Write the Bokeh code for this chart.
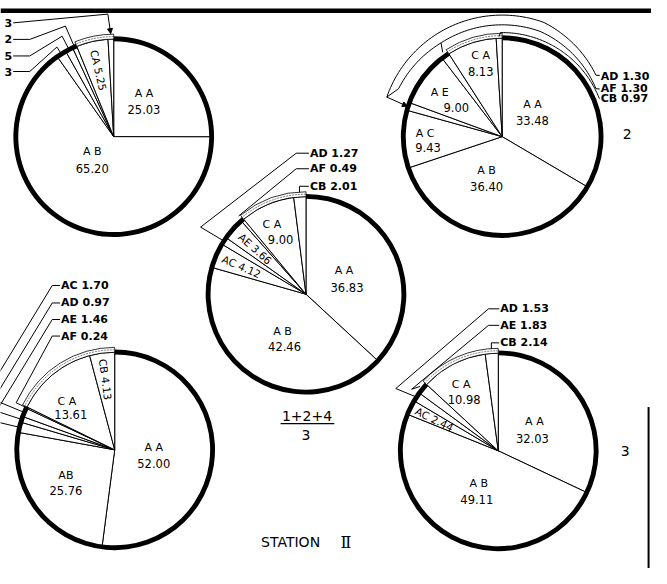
import numpy as np
from bokeh.plotting import figure
from bokeh.models import Range1d, Arrow, NormalHead
from bokeh.core.properties import value
from bokeh.embed import file_html
from bokeh.resources import INLINE

# ---------------- data ----------------
# pie 1 (top left, cropped at the left edge)
p1_cats = ["AA", "AB", "AC", "AD", "AE", "CA", "CB"]
p1_vals = [25.03, 65.20, 1.63, 1.25, 0.72, 5.25, 0.93]
p1_tags = ["3", "5", "2", "3"]          # visible remnants of the cropped labels (AC, AD, AE, CB)

# pie 2 (top right)
p2_cats = ["AA", "AB", "AC", "AD", "AE", "AF", "CA", "CB"]
p2_vals = [33.48, 36.40, 9.43, 1.30, 9.00, 1.30, 8.13, 0.97]

# mean pie (1+2+4)/3 (centre)
pm_cats = ["AA", "AB", "AC", "AD", "AE", "AF", "CA", "CB"]
pm_vals = [36.83, 42.46, 4.12, 1.27, 3.66, 0.49, 9.00, 2.01]

# pie 4 (bottom left)
p4_cats = ["AA", "AB", "AC", "AD", "AE", "AF", "CA", "CB"]
p4_vals = [52.00, 25.76, 1.70, 0.97, 1.46, 0.24, 13.61, 4.13]

# pie 3 (bottom right)
p3_cats = ["AA", "AB", "AC", "AD", "AE", "CA", "CB"]
p3_vals = [32.03, 49.11, 2.44, 1.53, 1.83, 10.98, 2.14]

pie_numbers = ["2", "3"]
mean_formula = ["1+2+4", "3"]
station_title = ["STATION", "\u2161"]

# ---------------- layout ----------------
W, H = 667, 584
FONT = value("DejaVu Sans")
p = figure(width=651, height=568, x_range=Range1d(0, W), y_range=Range1d(0, H),
           output_backend="svg", toolbar_location=None,
           x_axis_location=None, y_axis_location=None, min_border=0,
           outline_line_color=None, background_fill_color="white")
p.grid.visible = False

LX, LY = [], []


def pt(c, r, th):
    t = np.radians(th)
    return (c[0] + r * np.sin(t), c[1] - r * np.cos(t))


def leader(pts):
    LX.append([q[0] for q in pts])
    LY.append([H - q[1] for q in pts])


def spiral(c, ths, rs, n=80):
    tt = np.linspace(ths[0], ths[-1], n)
    rr = np.interp(tt, ths, rs)
    return [pt(c, r, t) for t, r in zip(tt, rr)]


def edges_of(vals):
    v = np.asarray(vals, float)
    return np.concatenate([[0.0], np.cumsum(v)]) / v.sum() * 360.0


def mid(e, i):
    return (e[i] + e[i + 1]) / 2.0


def txt(x, y, s, size="11px", align="center", bold=False, angle=0.0, font=FONT):
    p.text(x=[x], y=[H - y], text=[s], angle=[np.radians(angle)],
           text_font=font, text_font_size=size, text_align=align,
           text_baseline="middle", text_color="black",
           text_font_style="bold" if bold else "normal")


def inward(th):
    return ((450.0 - th) % 360.0) - 180.0


def rtxt(c, r, th, s, size="10.5px"):
    x, y = pt(c, r, th)
    txt(x, y, s, size=size, angle=inward(th))


def draw_pie(c, r, vals, thick_idx):
    e = edges_of(vals)
    cy = H - c[1]
    p.wedge(x=c[0], y=cy, radius=r,
            start_angle=list(np.radians(90 - e[1:])), end_angle=list(np.radians(90 - e[:-1])),
            fill_color="white", line_color="black", line_width=1)
    te = e[thick_idx]
    p.annular_wedge(x=c[0], y=cy, inner_radius=r - 2.2, outer_radius=r + 2.8,
                    start_angle=np.radians(90 - te), end_angle=np.radians(90),
                    fill_color="black", line_color=None)
    p.annular_wedge(x=c[0], y=cy, inner_radius=r, outer_radius=r + 5,
                    start_angle=np.radians(90 - 360), end_angle=np.radians(90 - te),
                    fill_color="white", line_color="black", line_width=0.8)
    p.arc(x=c[0], y=cy, radius=r + 2.5,
          start_angle=np.radians(90 - 360), end_angle=np.radians(90 - te),
          line_color="#444444", line_width=0.7, line_dash="2 1")
    return e


def arrow(a, b):
    p.add_layout(Arrow(end=NormalHead(size=5, fill_color="black", line_color="black"),
                       x_start=a[0], y_start=H - a[1], x_end=b[0], y_end=H - b[1],
                       line_color="black", line_width=1))


fmt = lambda v: f"{v:.2f}"

# rules of the scanned page
p.line(x=[0, W], y=[H - 10.5, H - 10.5], line_width=4.5, line_color="black")
p.line(x=[664, 664], y=[H - 418, 0], line_width=2, line_color="black")

# ---------- pie 1 ----------
C1, R1 = (116, 140), 100
e1 = draw_pie(C1, R1, p1_vals, 5)
txt(147, 96, "A A"); txt(147, 112, fmt(p1_vals[0]), size="11.5px")
txt(94, 155, "A B"); txt(94, 173, fmt(p1_vals[1]), size="11.5px")
rtxt(C1, 70, mid(e1, 5), "CA " + fmt(p1_vals[5]))
for i, ty, re_, tag in zip([2, 3, 4], [73, 57, 40], [109, 116, 124], p1_tags[:3]):
    th = mid(e1, i)
    txt(12, ty, tag, size="11px", align="right", bold=True)
    leader([(13, ty), (30, ty), pt(C1, re_, th), pt(C1, R1, th)])
txt(12, 23, p1_tags[3], size="11px", align="right", bold=True)
leader([(13, 23), (110, 14)])
arrow((110, 14), pt(C1, R1 + 6, mid(e1, 6)))

# ---------- pie 2 ----------
C2, R2 = (514, 140), 101
e2 = draw_pie(C2, R2, p2_vals, 6)
txt(492, 57, "C A"); txt(492, 73, fmt(p2_vals[6]), size="11.5px")
txt(450, 95, "A E"); txt(467, 110, fmt(p2_vals[4]), size="11.5px")
txt(435, 137, "A C"); txt(438, 151, fmt(p2_vals[2]), size="11.5px")
txt(545, 107, "A A"); txt(545, 123, fmt(p2_vals[0]), size="11.5px")
txt(498, 175, "A B"); txt(498, 191, fmt(p2_vals[1]), size="11.5px")
# AD leader (outer band ending with an arrow)
leader(spiral(C2, [-71, 20, 56.7], [125, 125, 115]) + [(614, 77)])
leader([pt(C2, 125, -71), pt(C2, 117, -65)])
arrow(pt(C2, 125, -71), pt(C2, R2 + 1, mid(e2, 3) - 360))
txt(615, 78, "AD " + fmt(p2_vals[3]), bold=True, align="left")
# AF leader
leader(spiral(C2, [-65, -33, 20, 62.8], [117, 115, 115, 108]) + [(614, 91)])
leader([pt(C2, 115, -33), pt(C2, R2 + 5, mid(e2, 5) - 360)])
txt(615, 90, "AF " + fmt(p2_vals[5]), bold=True, align="left")
# CB leader
leader([pt(C2, R2 + 2, mid(e2, 7) - 360)] + spiral(C2, [-1, 68.4], [107, 107]) + [(614, 101)])
txt(615, 101, "CB " + fmt(p2_vals[7]), bold=True, align="left")
txt(642, 137, pie_numbers[0], size="14px")

# ---------- mean pie ----------
C3, R3 = (313, 302), 100
em = draw_pie(C3, R3, pm_vals, 6)
txt(278, 230, "C A"); txt(287, 246, fmt(pm_vals[6]), size="11.5px")
txt(352, 278, "A A"); txt(355, 295, fmt(pm_vals[0]), size="11.5px")
txt(289, 340, "A B"); txt(291, 356, fmt(pm_vals[1]), size="11.5px")
rtxt(C3, 70, mid(em, 4), "AE " + fmt(pm_vals[4]))
rtxt(C3, 72, mid(em, 2), "AC " + fmt(pm_vals[2]))
leader([(316, 157), (303, 157), (205, 233), pt(C3, R3, mid(em, 3))])
txt(317, 157, "AD " + fmt(pm_vals[3]), bold=True, align="left")
leader([(316, 173), (303, 173), pt(C3, R3 + 6, mid(em, 5))])
txt(317, 173, "AF " + fmt(pm_vals[5]), bold=True, align="left")
thb = mid(em, 7)
xb = pt(C3, R3 + 6, thb)[0]
leader([(316, 191), (xb, 191), pt(C3, R3 + 5, thb)])
txt(317, 191, "CB " + fmt(pm_vals[7]), bold=True, align="left")
# formula
txt(314, 427, mean_formula[0], size="14px")
p.line(x=[287, 342], y=[H - 435, H - 435], line_color="black", line_width=1.2)
txt(313, 447, mean_formula[1], size="14px")

# ---------- pie 4 ----------
C4, R4 = (117, 462), 100
e4 = draw_pie(C4, R4, p4_vals, 6)
txt(68, 412, "C A"); txt(72, 426, fmt(p4_vals[6]), size="11.5px")
txt(157, 460, "A A"); txt(157, 476, fmt(p4_vals[0]), size="11.5px")
txt(67, 488, "AB"); txt(67, 504, fmt(p4_vals[1]), size="11.5px")
rtxt(C4, 73, mid(e4, 7), "CB " + fmt(p4_vals[7]))
for i, ty in zip([2, 3, 4, 5], [293, 311, 328, 345]):
    th = mid(e4, i)
    txt(62, ty, p4_cats[i] + " " + fmt(p4_vals[i]), bold=True, align="left")
    if i < 5:
        leader([(61, ty), (53, ty), (-10, ty + 63 * 1.65)])
        t = (-10 - C4[0]) / np.sin(np.radians(th))
        leader([pt(C4, R4, th), pt(C4, t, th)])
    else:
        leader([(61, ty), (53, ty), pt(C4, R4 + 12, th), pt(C4, R4, th)])

# ---------- pie 3 ----------
C5, R5 = (510, 463), 100
e5 = draw_pie(C5, R5, p3_vals, 5)
txt(472, 395, "C A"); txt(475, 410, fmt(p3_vals[5]), size="11.5px")
txt(547, 433, "A A"); txt(545, 450, fmt(p3_vals[0]), size="11.5px")
txt(490, 497, "A B"); txt(488, 513, fmt(p3_vals[1]), size="11.5px")
rtxt(C5, 73, mid(e5, 2), "AC " + fmt(p3_vals[2]))
leader([(511, 317), (500, 317), (405, 399), pt(C5, R5, mid(e5, 3))])
txt(512, 317, "AD " + fmt(p3_vals[3]), bold=True, align="left")
leader([(511, 334), (500, 334), pt(C5, R5 + 9, mid(e5, 4) - 4), pt(C5, R5 + 4, mid(e5, 4))])
txt(512, 334, "AE " + fmt(p3_vals[4]), bold=True, align="left")
thb = mid(e5, 6)
xb = pt(C5, R5 + 6, thb)[0]
leader([(511, 352), (xb, 352), pt(C5, R5 + 5, thb)])
txt(512, 352, "CB " + fmt(p3_vals[6]), bold=True, align="left")
txt(640, 463, pie_numbers[1], size="14px")

# station title
txt(267, 557, station_title[0], size="14px", align="left")
txt(354, 557, station_title[1], size="16px", font=value("DejaVu Serif"))

p.multi_line(xs=LX, ys=LY, line_color="black", line_width=1)

open("out.html", "w").write(file_html(p, INLINE))
